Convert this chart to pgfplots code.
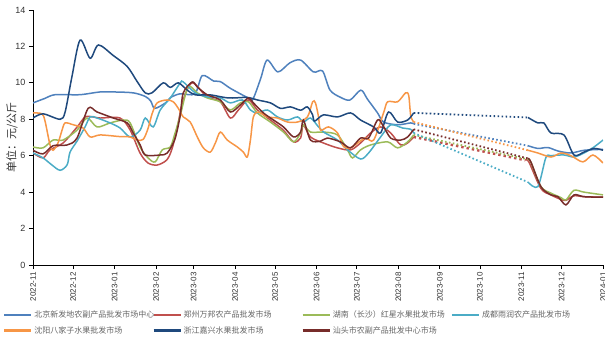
\documentclass[border=0pt]{standalone}
\usepackage{pgfplots}
\pgfplotsset{compat=1.18}
\usepackage{fontspec}
\setmainfont{Liberation Sans}
\newfontfamily\cjk{Noto Sans CJK SC}
\definecolor{cBJ}{HTML}{4F81BD}
\definecolor{cZZ}{HTML}{C0504D}
\definecolor{cHN}{HTML}{9BBB59}
\definecolor{cCD}{HTML}{4BACC6}
\definecolor{cSY}{HTML}{F79646}
\definecolor{cZJ}{HTML}{1F497D}
\definecolor{cST}{HTML}{772C2A}
\definecolor{legtxt}{HTML}{666666}
\definecolor{ticktxt}{HTML}{333333}
\begin{document}
\begin{tikzpicture}
\useasboundingbox (0,0) rectangle (605pt,341pt);
\begin{axis}[
  at={(33pt,76pt)}, anchor=south west,
  scale only axis, width=570pt, height=255pt,
  xmin=0, xmax=426, ymin=0, ymax=14,
  separate axis lines,
  axis x line=bottom, axis y line=left,
  axis line style={-, black, line width=0.8pt},
  tick align=outside, major tick length=4pt,
  tick style={black, line width=0.8pt},
  xtick={0,30,61,92,120,151,181,212,242,273,304,334,365,395,426},
  xticklabels={2022-11,2022-12,2023-01,2023-02,2023-03,2023-04,2023-05,2023-06,2023-07,2023-08,2023-09,2023-10,2023-11,2023-12,2024-01},
  xticklabel style={rotate=90, anchor=east, font=\fontsize{8}{9}\selectfont, text=ticktxt},
  ytick={0,2,...,14},
  yticklabel style={font=\fontsize{9}{10}\selectfont, text=ticktxt},
  /pgf/number format/assume math mode=true,
  ylabel={\cjk 单位：元/公斤},
  every axis y label/.style={at={(axis description cs:-0.037,0.5)}, rotate=90, anchor=center},
  ylabel style={font=\fontsize{11}{12}\selectfont, text=ticktxt},
  legend columns=4,
  legend style={at={(-0.0526,-0.172)}, anchor=north west, draw=none,
    font=\cjk\fontsize{8}{9}\selectfont, text=legtxt, row sep=3pt, column sep=0pt,
    inner sep=0pt},
  legend cell align=left,
  legend image code/.code={\draw[#1, line width=2.2pt] (0pt,0pt) -- (27pt,0pt);},
  every axis plot/.append style={line width=1.5pt},
  solid part/.style={smooth, tension=0.5},
  gap part/.style={line width=1.8pt, dash pattern=on 1.6pt off 2.4pt},
]
% ---------- Beijing
\addplot[cBJ, solid part] coordinates {
(0,8.9)(9,9.15)(16.5,9.35)(35,9.35)(50,9.5)(61,9.5)(75,9.45)(84,9.25)(88,9.0)(91,8.6)(99,8.9)(103,9.2)(110,9.4)(121,9.4)(126.5,10.4)(135,10.1)(140,10.07)(147.5,9.7)(160,9.2)(164,9.06)(170,10.2)(175,11.25)(183,10.6)(192,11.1)(200,11.25)(209.6,10.6)(216.4,10.65)(222,9.6)(230,9.2)(237,9.06)(245,9.6)(250,9.1)(257.5,8.35)(262,7.85)(272.5,7.7)(282.3,7.8)(284.5,7.75)};
\addlegendentry{\makebox[116pt][l]{北京新发地农副产品批发市场中心}}
\addplot[cBJ, gap part, forget plot] coordinates {(284.5,7.75)(369.9,6.55)};
\addplot[cBJ, solid part, forget plot] coordinates {
(369.9,6.55)(377.3,6.4)(384.8,6.45)(392.3,6.26)(402,6.15)(412,6.3)(426,6.35)};
% ---------- Zhengzhou
\addplot[cZZ, solid part] coordinates {
(0,6.15)(7.5,5.88)(12.7,6.32)(22.5,6.7)(33,7.58)(39,8.13)(45,8.13)(50,8.07)(65,8.07)(72.6,7.41)(80,6.15)(86,5.6)(92.8,5.49)(100,5.77)(104,6.4)(108,7.6)(112,9.0)(119,10.0)(130,9.23)(140,8.96)(147.5,8.07)(153.5,8.51)(161,9.06)(167.7,8.51)(177.4,7.96)(187,7.41)(194.7,6.76)(200,6.97)(202,7.69)(207.4,7.03)(217,6.7)(227.6,6.43)(237.3,6.32)(244.8,6.7)(252.3,7.25)(259.8,7.58)(267.3,7.25)(274.8,6.59)(280,6.7)(284.5,7.03)};
\addlegendentry{\makebox[116pt][l]{郑州万邦农产品批发市场}}
\addplot[cZZ, gap part, line width=2.4pt, dash pattern=on 2.4pt off 3pt, forget plot] coordinates {(284.5,7.03)(368,5.75)};
\addplot[cZZ, solid part, forget plot] coordinates {
(368,5.75)(370.6,5.66)(379.6,4.2)(387,3.85)(394.6,3.6)(398.3,3.55)(404.3,3.8)(411.8,3.75)(426,3.72)};
% ---------- Hunan
\addplot[cHN, solid part] coordinates {
(0,6.48)(7.5,6.43)(15,6.86)(22.5,6.86)(33,7.41)(40.4,8.07)(47.9,7.58)(57.6,7.8)(67.4,7.96)(72.6,7.8)(80,6.48)(86,5.88)(91.3,5.66)(96.6,6.32)(102.6,6.48)(106,7.2)(110,8.2)(116,9.77)(122.8,9.45)(130.3,9.17)(140,8.96)(147.5,8.51)(155,8.9)(161,8.96)(167.7,8.35)(177.4,7.85)(187.2,7.3)(194.7,6.76)(200,7.25)(202,7.69)(207.4,7.3)(217,7.3)(227.6,7.14)(235,6.32)(238.8,5.88)(244.8,6.32)(252.3,6.59)(265,6.76)(272.5,6.43)(280,6.76)(284.5,7.14)};
\addlegendentry{\makebox[116pt][l]{湖南（长沙）红星水果批发市场}}
\addplot[cHN, gap part, forget plot] coordinates {(284.5,7.14)(369.9,5.8)};
\addplot[cHN, solid part, forget plot] coordinates {
(369.9,5.8)(372,5.66)(379.6,4.3)(387,3.95)(394.6,3.7)(398.3,3.57)(404.3,4.1)(411.8,4.0)(426,3.85)};
% ---------- Chengdu
\addplot[cCD, solid part] coordinates {
(0,6.15)(7.5,5.88)(14,5.5)(20.2,5.2)(25.5,5.5)(27.7,6.2)(32.9,6.8)(38.9,7.58)(42.7,8.13)(47.9,8.07)(57.6,7.8)(65.1,7.52)(72.6,7.03)(80.1,7.41)(83.9,8.07)(89.8,7.58)(95.1,8.51)(102.6,9.17)(110.1,10.0)(112.3,10.05)(121.3,9.45)(130.3,9.23)(140,9.17)(147.5,8.9)(156.5,9.06)(162.5,8.51)(167.7,8.35)(175.2,8.51)(182.7,8.13)(190.2,7.96)(197.7,8.13)(202.1,7.85)(207.4,8.07)(213.4,7.58)(217.1,7.3)(227.6,6.86)(235.1,6.32)(244.8,5.82)(250.8,6.15)(259.8,7.03)(267.3,7.69)(276.3,7.52)(282.3,7.45)(284.5,7.25)};
\addlegendentry{\makebox[116pt][l]{成都雨润农产品批发市场}}
\addplot[cCD, gap part, forget plot] coordinates {(284.5,7.25)(369.9,4.55)};
\addplot[cCD, solid part, forget plot] coordinates {
(369.9,4.55)(377.3,4.3)(383.3,5.9)(387.1,6.0)(396.8,6.04)(404.3,5.93)(411.8,6.15)(419.3,6.48)(426,6.86)};
% ---------- Shenyang
\addplot[cSY, solid part] coordinates {
(0,8.35)(6.7,8.3)(9,7.9)(12.7,6.6)(15,6.3)(18.7,6.7)(21.7,7.4)(24,7.8)(30,7.7)(37.4,7.52)(42.7,7.03)(50.2,7.14)(65,7.05)(72.6,7.03)(77.9,6.86)(82.4,6.9)(86,7.5)(89,8.3)(92.8,8.9)(100,9.06)(104.8,8.96)(108.6,8.6)(112.3,8.13)(117.5,7.85)(122.8,7.03)(127.3,6.43)(132.5,6.2)(136.3,6.7)(140,7.3)(145.2,6.86)(152.7,6.48)(157.2,6.2)(160.2,5.93)(162.5,6.86)(164.7,8.13)(168.5,8.4)(175.2,8.13)(182.7,8.07)(190.2,7.85)(197.7,7.85)(205.1,8.13)(209,8.96)(211.1,8.9)(213.4,8.13)(214.9,7.41)(220.9,7.58)(227.6,7.25)(232.1,6.5)(237.3,6.43)(242.6,6.7)(248.6,6.97)(254.6,6.86)(262,8.35)(265,8.96)(272.5,8.96)(278.5,9.45)(280.8,9.3)(282.3,8.2)(284.5,7.85)};
\addlegendentry{\makebox[116pt][l]{沈阳八家子水果批发市场}}
\addplot[cSY, gap part, forget plot] coordinates {(284.5,7.85)(369.9,6.3)};
\addplot[cSY, solid part, forget plot] coordinates {
(369.9,6.3)(377.3,6.15)(387.1,5.93)(394.6,6.15)(402.1,6.0)(411,5.66)(418.5,6.04)(426,5.6)};
% ---------- Zhejiang
\addplot[cZJ, solid part] coordinates {
(0,8.07)(7.5,8.3)(20.2,8.0)(24,8.4)(29,10.3)(35.2,12.35)(42.7,11.35)(48.9,12.08)(60,11.5)(70.4,10.9)(77.6,10.1)(83.9,9.45)(88.9,9.45)(97.3,10.0)(102.6,9.75)(108.6,10.0)(115.3,9.6)(121.3,9.34)(132.5,9.34)(146,9.17)(160,9.2)(167.7,9.06)(177.4,8.9)(185,8.6)(192.4,8.68)(200,8.5)(205,8.68)(209,8.24)(210.5,7.9)(217,8.24)(227.6,8.13)(237.3,8.35)(244.8,7.96)(254.6,7.58)(259.8,7.25)(265.7,8.4)(272.5,7.85)(280,7.96)(284.5,8.35)};
\addlegendentry{\makebox[116pt][l]{浙江嘉兴水果批发市场}}
\addplot[cZJ, gap part, forget plot] coordinates {(284.5,8.35)(369.9,8.1)};
\addplot[cZJ, solid part, forget plot] coordinates {
(369.9,8.1)(377.3,7.8)(381.8,7.8)(387.1,7.25)(396.8,7.14)(404.3,6.04)(411.8,6.2)(419.3,6.4)(426,6.3)};
% ---------- Shantou
\addplot[cST, solid part] coordinates {
(0,6.3)(7.5,6.1)(15,6.55)(25.5,6.59)(32.9,6.97)(41.2,8.6)(47.9,8.4)(60,8.07)(70.4,7.8)(74.9,7.25)(80.1,6.59)(83.9,6.04)(95.1,6.04)(100.3,6.15)(106,6.9)(110,8.2)(112.3,9.45)(119,10.05)(122.8,9.77)(130.3,9.34)(140,9.06)(147.5,8.4)(155,8.79)(161,9.17)(164.7,8.9)(172.2,8.35)(179.7,7.96)(187.2,7.58)(194.7,7.03)(200,7.3)(202.1,7.96)(207.4,6.86)(214.9,6.8)(220,6.97)(229.8,6.76)(237.3,6.43)(244.8,6.97)(250.8,6.97)(257.5,7.96)(261.3,7.69)(267.3,6.97)(274.8,6.86)(280,7.03)(284.5,7.45)};
\addlegendentry{\makebox[116pt][l]{汕头市农副产品批发中心市场}}
\addplot[cST, gap part, forget plot] coordinates {(284.5,7.45)(369.9,5.85)};
\addplot[cST, solid part, forget plot] coordinates {
(369.9,5.85)(372.1,5.66)(379.6,4.3)(387.1,3.85)(392.3,3.75)(398.3,3.3)(404.3,3.85)(411.8,3.75)(426,3.72)};
\end{axis}
\end{tikzpicture}
\end{document}
